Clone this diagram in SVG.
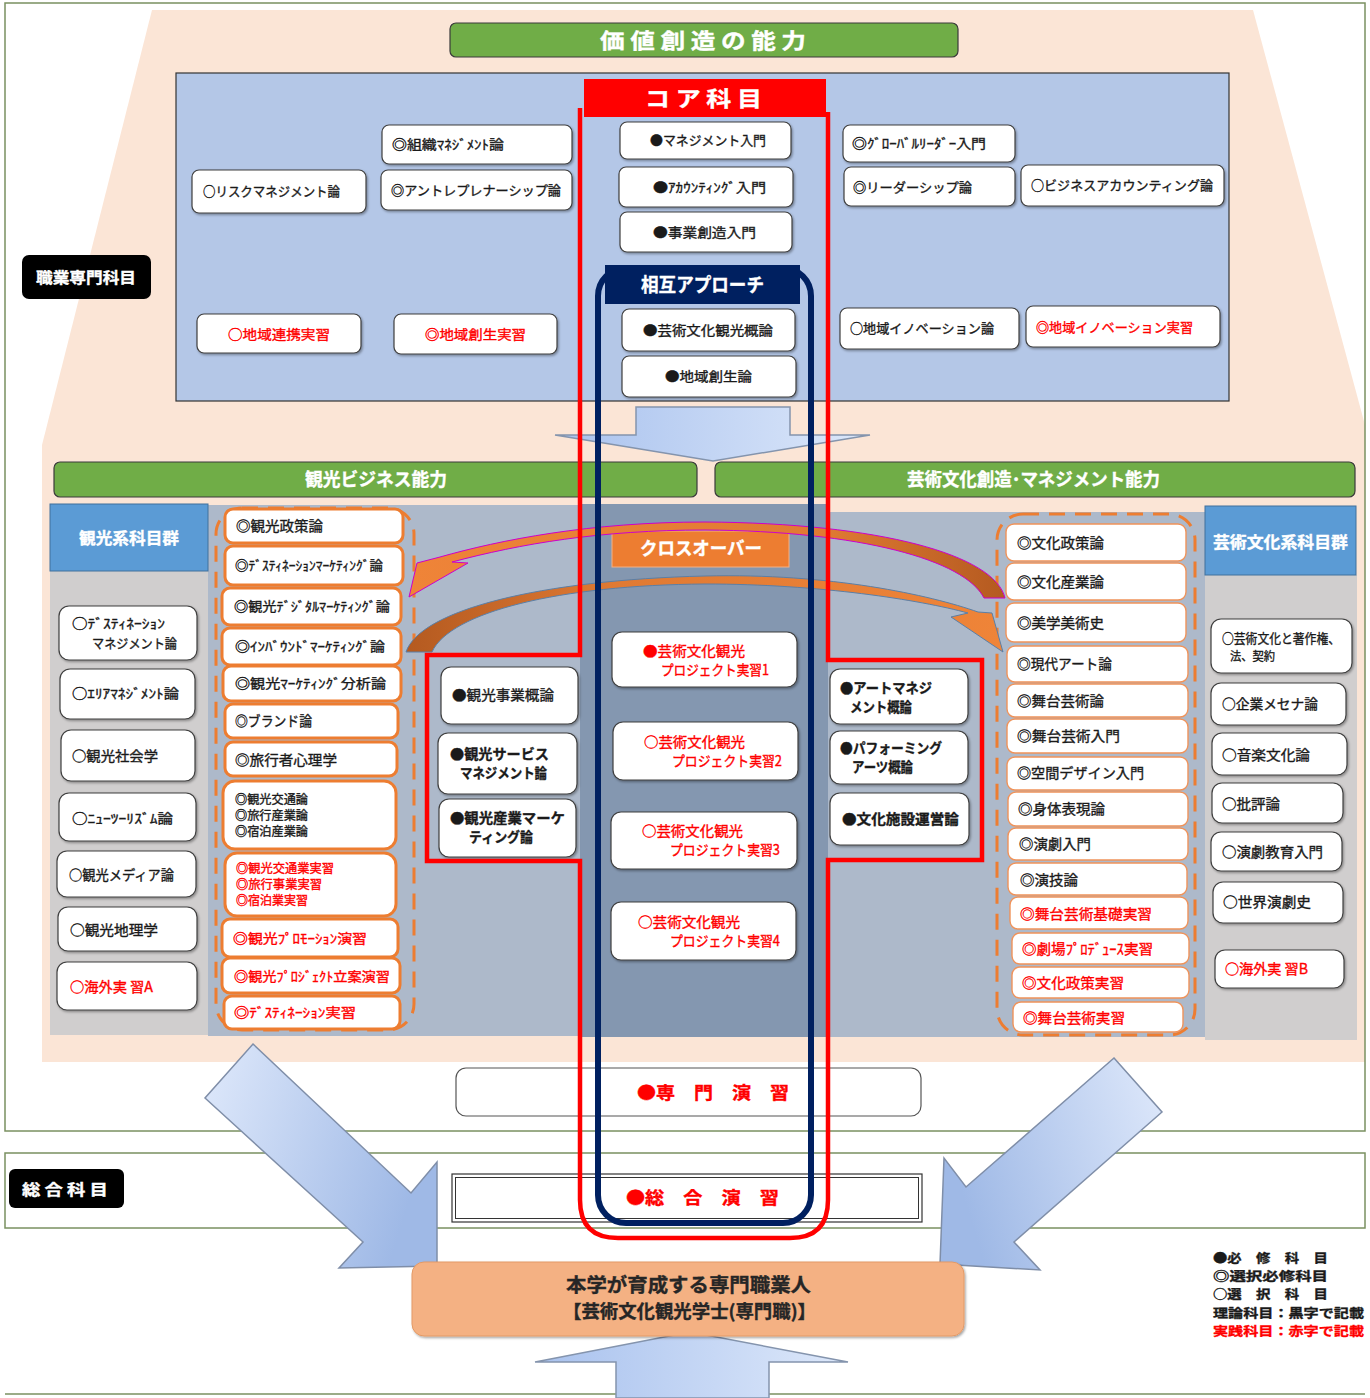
<svg xmlns="http://www.w3.org/2000/svg" width="1370" height="1398" viewBox="0 0 1370 1398">
<defs>
  <style>
    .t { font-family: "Noto Sans CJK JP", "Noto Sans", sans-serif; font-size: 13px; fill: #1a1a1a; stroke: #1a1a1a; stroke-width: 0.35px; }
    .s12 { font-size: 12px; }
    .s14 { font-size: 14px; }
    .f15 { font-size: 15px; }
    .f16 { font-size: 16px; }
    .f17 { font-size: 17px; }
    .f18 { font-size: 18px; }
    .f19 { font-size: 19px; }
    .f21 { font-size: 21px; }
    .lg { font-size: 12.5px; }
    .b { font-weight: bold; }
    .r { fill: #ff0000; stroke: #ff0000; }
    .w { fill: #ffffff; stroke: #ffffff; font-weight: bold; }
    .dk { fill: #262626; stroke: #262626; }
    .bx { fill: #ffffff; stroke: #3f3f3f; stroke-width: 1.2; filter: url(#sh); }
    .ob { fill: #ffffff; stroke: #ed7d31; stroke-width: 3; }
    .ob2 { fill: #ffffff; stroke: #f0935a; stroke-width: 1.4; }
    .bar { fill: #70ad47; stroke: #3a3a3a; stroke-width: 1.2; }
    .lab { fill: #000000; }
    .frame { fill: none; stroke: #7a9060; stroke-width: 1.5; }
    .dash { fill: none; stroke: #ed7d31; stroke-width: 3; stroke-dasharray: 16 10; }
    .hdr { fill: #5b9bd5; stroke: #41719c; stroke-width: 1; }
    .bigarrow { fill: url(#blueGrad); stroke: #8494ad; stroke-width: 1.5; }
  </style>
  <filter id="sh" x="-10%" y="-10%" width="130%" height="140%">
    <feDropShadow dx="1.2" dy="1.5" stdDeviation="0.8" flood-color="#000" flood-opacity="0.35"/>
  </filter>
  <linearGradient id="blueGrad" x1="0" y1="0" x2="1" y2="0">
    <stop offset="0" stop-color="#a9c2ee"/>
    <stop offset="1" stop-color="#dde8fa"/>
  </linearGradient>
  <linearGradient id="diagL" x1="0" y1="0" x2="1" y2="0.3">
    <stop offset="0" stop-color="#dfe9fb"/>
    <stop offset="1" stop-color="#9fb9e6"/>
  </linearGradient>
  <linearGradient id="diagR" x1="1" y1="0" x2="0" y2="0.3">
    <stop offset="0" stop-color="#dfe9fb"/>
    <stop offset="1" stop-color="#9fb9e6"/>
  </linearGradient>
  <linearGradient id="arcUp" x1="0" y1="0" x2="1" y2="0">
    <stop offset="0" stop-color="#ef8438"/>
    <stop offset="0.7" stop-color="#e07a33"/>
    <stop offset="1" stop-color="#b45a20"/>
  </linearGradient>
  <linearGradient id="arcLow" x1="0" y1="0" x2="1" y2="0">
    <stop offset="0" stop-color="#b45a20"/>
    <stop offset="0.35" stop-color="#e07a33"/>
    <stop offset="1" stop-color="#ef8438"/>
  </linearGradient>
</defs>

<!-- page background and frames -->
<rect x="0" y="0" width="1370" height="1398" fill="#ffffff"/>
<polygon points="152,10 1253,10 1365,425 1365,1062 42,1062 42,445" fill="#fbe5d6"/>
<rect class="frame" x="5" y="3" width="1360" height="1128"/>
<rect class="frame" x="5" y="1153" width="1360" height="75"/>
<line x1="5" y1="1394" x2="1365" y2="1394" stroke="#7a9060" stroke-width="1.5"/>

<!-- upper block: value creation -->
<g id="title-value">
  <rect class="bar" x="450" y="23" width="508" height="34" rx="6"/>
  <text class="t w f21" x="600" y="48" textLength="206" lengthAdjust="spacingAndGlyphs">価 値 創 造 の 能 力</text>
</g>
<rect x="176" y="73" width="1053" height="328" fill="#b4c7e7" stroke="#333" stroke-width="1.2"/>

<g id="label-shokugyo">
  <rect class="lab" x="22" y="255" width="129" height="44" rx="7"/>
  <text class="t w f15" x="36" y="283" textLength="100" lengthAdjust="spacingAndGlyphs">職業専門科目</text>
</g>

<g id="n-management"><rect class="bx" x="620" y="122" width="171" height="37" rx="7"/><text class="t" x="650" y="145" textLength="116" lengthAdjust="spacingAndGlyphs">●マネジメント入門</text></g>
<g id="n-accounting"><rect class="bx" x="619" y="167" width="174" height="40" rx="7"/><text class="t" x="653" y="192" textLength="113" lengthAdjust="spacingAndGlyphs">●ｱｶｳﾝﾃｨﾝｸﾞ入門</text></g>
<g id="n-jigyo"><rect class="bx" x="620" y="212" width="172" height="40" rx="7"/><text class="t" x="653" y="237" textLength="103" lengthAdjust="spacingAndGlyphs">●事業創造入門</text></g>
<g id="n-geijutsu-gairon"><rect class="bx" x="622" y="309" width="173" height="42" rx="7"/><text class="t" x="643" y="335" textLength="130" lengthAdjust="spacingAndGlyphs">●芸術文化観光概論</text></g>
<g id="n-chiiki-sousei"><rect class="bx" x="622" y="356" width="174" height="41" rx="7"/><text class="t" x="665" y="381" textLength="87" lengthAdjust="spacingAndGlyphs">●地域創生論</text></g>

<g id="n-soshiki"><rect class="bx" x="382" y="125" width="190" height="39" rx="7"/><text class="t" x="392" y="149" textLength="112" lengthAdjust="spacingAndGlyphs">◎組織ﾏﾈｼﾞﾒﾝﾄ論</text></g>
<g id="n-risk"><rect class="bx" x="192" y="170" width="174" height="43" rx="7"/><text class="t" x="203" y="196" textLength="137" lengthAdjust="spacingAndGlyphs">○リスクマネジメント論</text></g>
<g id="n-entre"><rect class="bx" x="381" y="170" width="191" height="40" rx="7"/><text class="t" x="391" y="195" textLength="170" lengthAdjust="spacingAndGlyphs">◎アントレプレナーシップ論</text></g>
<g id="n-renkei"><rect class="bx" x="197" y="314" width="164" height="39" rx="7"/><text class="t r" x="228" y="339" textLength="102" lengthAdjust="spacingAndGlyphs">○地域連携実習</text></g>
<g id="n-sousei-jisshu"><rect class="bx" x="394" y="314" width="163" height="40" rx="7"/><text class="t r" x="425" y="339" textLength="101" lengthAdjust="spacingAndGlyphs">◎地域創生実習</text></g>

<g id="n-global"><rect class="bx" x="843" y="125" width="172" height="37" rx="7"/><text class="t" x="852" y="148" textLength="134" lengthAdjust="spacingAndGlyphs">◎ｸﾞﾛｰﾊﾞﾙﾘｰﾀﾞｰ入門</text></g>
<g id="n-leader"><rect class="bx" x="844" y="167" width="171" height="39" rx="7"/><text class="t" x="853" y="192" textLength="119" lengthAdjust="spacingAndGlyphs">◎リーダーシップ論</text></g>
<g id="n-bizacc"><rect class="bx" x="1021" y="165" width="203" height="41" rx="7"/><text class="t" x="1031" y="190" textLength="182" lengthAdjust="spacingAndGlyphs">○ビジネスアカウンティング論</text></g>
<g id="n-innov"><rect class="bx" x="840" y="308" width="179" height="41" rx="7"/><text class="t" x="850" y="333" textLength="144" lengthAdjust="spacingAndGlyphs">○地域イノベーション論</text></g>
<g id="n-innov-jisshu"><rect class="bx" x="1026" y="306" width="194" height="41" rx="7"/><text class="t r" x="1036" y="332" textLength="157" lengthAdjust="spacingAndGlyphs">◎地域イノベーション実習</text></g>

<!-- ability bars -->
<g id="bar-kanko">
  <rect class="bar" x="54" y="462" width="643" height="35" rx="6"/>
  <text class="t w f18" x="305" y="486" textLength="142" lengthAdjust="spacingAndGlyphs">観光ビジネス能力</text>
</g>
<g id="bar-geijutsu">
  <rect class="bar" x="715" y="462" width="640" height="35" rx="6"/>
  <text class="t w f18" x="907" y="486" textLength="253" lengthAdjust="spacingAndGlyphs">芸術文化創造･マネジメント能力</text>
</g>

<!-- middle block backgrounds -->
<rect x="50" y="505" width="158" height="530" fill="#d0cece"/>
<rect x="208" y="505" width="372" height="531" fill="#adb9ca"/>
<rect x="580" y="504" width="248" height="533" fill="#8497b0"/>
<rect x="828" y="512" width="377" height="525" fill="#adb9ca"/>
<rect x="1205" y="575" width="152" height="465" fill="#d0cece"/>

<g id="hdr-kanko">
  <rect class="hdr" x="50" y="504" width="158" height="67"/>
  <text class="t w f16" x="79" y="544" textLength="100" lengthAdjust="spacingAndGlyphs">観光系科目群</text>
</g>
<g id="hdr-geijutsu">
  <rect class="hdr" x="1205" y="506" width="151" height="69"/>
  <text class="t w f16" x="1213" y="548" textLength="135" lengthAdjust="spacingAndGlyphs">芸術文化系科目群</text>
</g>

<rect class="dash" x="216" y="508" width="198" height="522" rx="26"/>
<rect class="dash" x="997" y="514" width="198" height="521" rx="26"/>

<g id="crossover">
  <rect x="612" y="531" width="177" height="36" fill="#ed7d31" stroke="#f4b183" stroke-width="1"/>
  <text class="t w f18" x="640" y="555" textLength="122" lengthAdjust="spacingAndGlyphs">クロスオーバー</text>
</g>

<!-- tourism elective-required list -->
<g id="n-k1"><rect class="ob" x="225" y="509" width="178" height="34" rx="8"/><text class="t s14" x="236" y="531" textLength="87" lengthAdjust="spacingAndGlyphs">◎観光政策論</text></g>
<g id="n-k2"><rect class="ob" x="225" y="546" width="178" height="39" rx="8"/><text class="t" x="235" y="570" textLength="148" lengthAdjust="spacingAndGlyphs">◎ﾃﾞｽﾃｨﾈｰｼｮﾝﾏｰｹﾃｨﾝｸﾞ論</text></g>
<g id="n-k3"><rect class="ob" x="222" y="588" width="179" height="37" rx="8"/><text class="t" x="234" y="611" textLength="156" lengthAdjust="spacingAndGlyphs">◎観光ﾃﾞｼﾞﾀﾙﾏｰｹﾃｨﾝｸﾞ論</text></g>
<g id="n-k4"><rect class="ob" x="222" y="628" width="179" height="37" rx="8"/><text class="t" x="235" y="651" textLength="150" lengthAdjust="spacingAndGlyphs">◎ｲﾝﾊﾞｳﾝﾄﾞﾏｰｹﾃｨﾝｸﾞ論</text></g>
<g id="n-k5"><rect class="ob" x="223" y="666" width="178" height="35" rx="8"/><text class="t" x="235" y="688" textLength="151" lengthAdjust="spacingAndGlyphs">◎観光ﾏｰｹﾃｨﾝｸﾞ分析論</text></g>
<g id="n-k6"><rect class="ob" x="225" y="704" width="173" height="34" rx="8"/><text class="t s14" x="235" y="726" textLength="77" lengthAdjust="spacingAndGlyphs">◎ブランド論</text></g>
<g id="n-k7"><rect class="ob" x="225" y="742" width="172" height="34" rx="8"/><text class="t s14" x="235" y="765" textLength="102" lengthAdjust="spacingAndGlyphs">◎旅行者心理学</text></g>
<g id="n-k8"><rect class="ob" x="223" y="781" width="173" height="68" rx="12"/>
  <text class="t s12" x="235" y="804" textLength="73" lengthAdjust="spacingAndGlyphs">◎観光交通論</text>
  <text class="t s12" x="235" y="820" textLength="73" lengthAdjust="spacingAndGlyphs">◎旅行産業論</text>
  <text class="t s12" x="235" y="836" textLength="73" lengthAdjust="spacingAndGlyphs">◎宿泊産業論</text></g>
<g id="n-k9"><rect class="ob" x="225" y="853" width="171" height="63" rx="12"/>
  <text class="t s12 r" x="236" y="873" textLength="98" lengthAdjust="spacingAndGlyphs">◎観光交通業実習</text>
  <text class="t s12 r" x="236" y="889" textLength="86" lengthAdjust="spacingAndGlyphs">◎旅行事業実習</text>
  <text class="t s12 r" x="236" y="905" textLength="72" lengthAdjust="spacingAndGlyphs">◎宿泊業実習</text></g>
<g id="n-k10"><rect class="ob" x="222" y="919" width="176" height="38" rx="8"/><text class="t r" x="233" y="943" textLength="134" lengthAdjust="spacingAndGlyphs">◎観光ﾌﾟﾛﾓｰｼｮﾝ演習</text></g>
<g id="n-k11"><rect class="ob" x="222" y="958" width="178" height="35" rx="8"/><text class="t r" x="234" y="981" textLength="156" lengthAdjust="spacingAndGlyphs">◎観光ﾌﾟﾛｼﾞｪｸﾄ立案演習</text></g>
<g id="n-k12"><rect class="ob" x="224" y="996" width="176" height="33" rx="8"/><text class="t r" x="234" y="1017" textLength="122" lengthAdjust="spacingAndGlyphs">◎ﾃﾞｽﾃｨﾈｰｼｮﾝ実習</text></g>

<!-- tourism electives -->
<g id="n-e1"><rect class="bx" x="59" y="606" width="138" height="54" rx="10"/>
  <text class="t" x="72" y="628" textLength="93" lengthAdjust="spacingAndGlyphs">○ﾃﾞｽﾃｨﾈｰｼｮﾝ</text>
  <text class="t" x="92" y="648" textLength="85" lengthAdjust="spacingAndGlyphs">マネジメント論</text></g>
<g id="n-e2"><rect class="bx" x="60" y="669" width="135" height="50" rx="10"/><text class="t" x="72" y="698" textLength="107" lengthAdjust="spacingAndGlyphs">○ｴﾘｱﾏﾈｼﾞﾒﾝﾄ論</text></g>
<g id="n-e3"><rect class="bx" x="61" y="730" width="134" height="51" rx="10"/><text class="t s14" x="72" y="761" textLength="86" lengthAdjust="spacingAndGlyphs">○観光社会学</text></g>
<g id="n-e4"><rect class="bx" x="59" y="793" width="137" height="48" rx="10"/><text class="t" x="72" y="823" textLength="101" lengthAdjust="spacingAndGlyphs">○ﾆｭｰﾂｰﾘｽﾞﾑ論</text></g>
<g id="n-e5"><rect class="bx" x="57" y="851" width="139" height="46" rx="10"/><text class="t s14" x="69" y="880" textLength="105" lengthAdjust="spacingAndGlyphs">○観光メディア論</text></g>
<g id="n-e6"><rect class="bx" x="58" y="907" width="139" height="44" rx="10"/><text class="t s14" x="70" y="935" textLength="88" lengthAdjust="spacingAndGlyphs">○観光地理学</text></g>
<g id="n-e7"><rect class="bx" x="57" y="962" width="140" height="48" rx="10"/><text class="t s14 r" x="70" y="992" textLength="83" lengthAdjust="spacingAndGlyphs">○海外実 習A</text></g>

<!-- tourism required -->
<g id="n-c1"><rect class="bx" x="441" y="667" width="137" height="57" rx="10"/><text class="t s14" x="452" y="700" textLength="102" lengthAdjust="spacingAndGlyphs">●観光事業概論</text></g>
<g id="n-c2"><rect class="bx" x="438" y="733" width="139" height="61" rx="10"/>
  <text class="t s14 b" x="450" y="759" textLength="99" lengthAdjust="spacingAndGlyphs">●観光サービス</text>
  <text class="t s14 b" x="460" y="778" textLength="87" lengthAdjust="spacingAndGlyphs">マネジメント論</text></g>
<g id="n-c3"><rect class="bx" x="439" y="799" width="137" height="58" rx="10"/>
  <text class="t s14 b" x="450" y="823" textLength="115" lengthAdjust="spacingAndGlyphs">●観光産業マーケ</text>
  <text class="t s14 b" x="469" y="842" textLength="64" lengthAdjust="spacingAndGlyphs">ティング論</text></g>

<!-- project practice -->
<g id="n-p1"><rect class="bx" x="612" y="632" width="185" height="55" rx="10"/>
  <text class="t s14 r" x="643" y="656" textLength="102" lengthAdjust="spacingAndGlyphs">●芸術文化観光</text>
  <text class="t s14 r" x="661" y="675" textLength="108" lengthAdjust="spacingAndGlyphs">プロジェクト実習1</text></g>
<g id="n-p2"><rect class="bx" x="613" y="722" width="185" height="58" rx="10"/>
  <text class="t s14 r" x="644" y="747" textLength="101" lengthAdjust="spacingAndGlyphs">○芸術文化観光</text>
  <text class="t s14 r" x="672" y="766" textLength="110" lengthAdjust="spacingAndGlyphs">プロジェクト実習2</text></g>
<g id="n-p3"><rect class="bx" x="611" y="812" width="186" height="57" rx="10"/>
  <text class="t s14 r" x="642" y="836" textLength="101" lengthAdjust="spacingAndGlyphs">○芸術文化観光</text>
  <text class="t s14 r" x="670" y="855" textLength="110" lengthAdjust="spacingAndGlyphs">プロジェクト実習3</text></g>
<g id="n-p4"><rect class="bx" x="611" y="902" width="185" height="58" rx="10"/>
  <text class="t s14 r" x="638" y="927" textLength="102" lengthAdjust="spacingAndGlyphs">○芸術文化観光</text>
  <text class="t s14 r" x="670" y="946" textLength="110" lengthAdjust="spacingAndGlyphs">プロジェクト実習4</text></g>

<!-- arts required -->
<g id="n-a1"><rect class="bx" x="830" y="669" width="138" height="55" rx="10"/>
  <text class="t s14 b" x="840" y="693" textLength="92" lengthAdjust="spacingAndGlyphs">●アートマネジ</text>
  <text class="t s14 b" x="850" y="712" textLength="62" lengthAdjust="spacingAndGlyphs">メント概論</text></g>
<g id="n-a2"><rect class="bx" x="830" y="731" width="138" height="53" rx="10"/>
  <text class="t s14 b" x="840" y="753" textLength="102" lengthAdjust="spacingAndGlyphs">●パフォーミング</text>
  <text class="t s14 b" x="852" y="772" textLength="61" lengthAdjust="spacingAndGlyphs">アーツ概論</text></g>
<g id="n-a3"><rect class="bx" x="830" y="793" width="139" height="52" rx="10"/><text class="t s14 b" x="842" y="824" textLength="117" lengthAdjust="spacingAndGlyphs">●文化施設運営論</text></g>

<!-- arts elective-required list -->
<g id="n-g1"><rect class="ob2" x="1006" y="524" width="180" height="37" rx="8"/><text class="t s14" x="1017" y="548" textLength="87" lengthAdjust="spacingAndGlyphs">◎文化政策論</text></g>
<g id="n-g2"><rect class="ob2" x="1006" y="563" width="180" height="37" rx="8"/><text class="t s14" x="1017" y="587" textLength="87" lengthAdjust="spacingAndGlyphs">◎文化産業論</text></g>
<g id="n-g3"><rect class="ob2" x="1006" y="603" width="180" height="39" rx="8"/><text class="t s14" x="1017" y="628" textLength="87" lengthAdjust="spacingAndGlyphs">◎美学美術史</text></g>
<g id="n-g4"><rect class="ob2" x="1007" y="646" width="181" height="36" rx="8"/><text class="t s14" x="1017" y="669" textLength="95" lengthAdjust="spacingAndGlyphs">◎現代アート論</text></g>
<g id="n-g5"><rect class="ob2" x="1007" y="684" width="181" height="33" rx="8"/><text class="t s14" x="1017" y="706" textLength="87" lengthAdjust="spacingAndGlyphs">◎舞台芸術論</text></g>
<g id="n-g6"><rect class="ob2" x="1007" y="719" width="181" height="34" rx="8"/><text class="t s14" x="1017" y="741" textLength="103" lengthAdjust="spacingAndGlyphs">◎舞台芸術入門</text></g>
<g id="n-g7"><rect class="ob2" x="1007" y="757" width="181" height="33" rx="8"/><text class="t s14" x="1017" y="778" textLength="127" lengthAdjust="spacingAndGlyphs">◎空間デザイン入門</text></g>
<g id="n-g8"><rect class="ob2" x="1008" y="792" width="180" height="34" rx="8"/><text class="t s14" x="1018" y="814" textLength="87" lengthAdjust="spacingAndGlyphs">◎身体表現論</text></g>
<g id="n-g9"><rect class="ob2" x="1008" y="828" width="180" height="32" rx="8"/><text class="t s14" x="1019" y="849" textLength="72" lengthAdjust="spacingAndGlyphs">◎演劇入門</text></g>
<g id="n-g10"><rect class="ob2" x="1008" y="863" width="179" height="32" rx="8"/><text class="t s14" x="1020" y="885" textLength="58" lengthAdjust="spacingAndGlyphs">◎演技論</text></g>
<g id="n-g11"><rect class="ob2" x="1010" y="897" width="178" height="32" rx="8"/><text class="t s14 r" x="1020" y="919" textLength="132" lengthAdjust="spacingAndGlyphs">◎舞台芸術基礎実習</text></g>
<g id="n-g12"><rect class="ob2" x="1012" y="933" width="177" height="31" rx="8"/><text class="t s14 r" x="1022" y="954" textLength="131" lengthAdjust="spacingAndGlyphs">◎劇場ﾌﾟﾛﾃﾞｭｰｽ実習</text></g>
<g id="n-g13"><rect class="ob2" x="1012" y="967" width="177" height="31" rx="8"/><text class="t s14 r" x="1022" y="988" textLength="102" lengthAdjust="spacingAndGlyphs">◎文化政策実習</text></g>
<g id="n-g14"><rect class="ob2" x="1013" y="1002" width="170" height="30" rx="8"/><text class="t s14 r" x="1023" y="1023" textLength="102" lengthAdjust="spacingAndGlyphs">◎舞台芸術実習</text></g>

<!-- arts electives -->
<g id="n-f1"><rect class="bx" x="1211" y="619" width="141" height="54" rx="10"/>
  <text class="t" x="1222" y="643" textLength="118" lengthAdjust="spacingAndGlyphs">○芸術文化と著作権、</text>
  <text class="t s12" x="1230" y="661" textLength="45" lengthAdjust="spacingAndGlyphs">法、契約</text></g>
<g id="n-f2"><rect class="bx" x="1211" y="683" width="135" height="42" rx="10"/><text class="t s14" x="1222" y="709" textLength="96" lengthAdjust="spacingAndGlyphs">○企業メセナ論</text></g>
<g id="n-f3"><rect class="bx" x="1212" y="733" width="135" height="42" rx="10"/><text class="t s14" x="1222" y="760" textLength="88" lengthAdjust="spacingAndGlyphs">○音楽文化論</text></g>
<g id="n-f4"><rect class="bx" x="1212" y="783" width="131" height="40" rx="10"/><text class="t s14" x="1222" y="809" textLength="58" lengthAdjust="spacingAndGlyphs">○批評論</text></g>
<g id="n-f5"><rect class="bx" x="1211" y="832" width="131" height="39" rx="10"/><text class="t s14" x="1222" y="857" textLength="101" lengthAdjust="spacingAndGlyphs">○演劇教育入門</text></g>
<g id="n-f6"><rect class="bx" x="1213" y="882" width="130" height="41" rx="10"/><text class="t s14" x="1223" y="907" textLength="88" lengthAdjust="spacingAndGlyphs">○世界演劇史</text></g>
<g id="n-f7"><rect class="bx" x="1215" y="950" width="129" height="38" rx="10"/><text class="t s14 r" x="1225" y="974" textLength="83" lengthAdjust="spacingAndGlyphs">○海外実 習B</text></g>

<!-- seminars and general subjects -->
<g id="n-senmon-enshu">
  <rect x="456" y="1068" width="465" height="48" rx="10" fill="#fff" stroke="#555" stroke-width="1.2"/>
  <text class="t b r f17" x="637" y="1099" textLength="152" lengthAdjust="spacingAndGlyphs">●専　門　演　習</text>
</g>
<g id="n-sogo-enshu">
  <rect x="452" y="1174" width="470" height="48" fill="#fff" stroke="#333" stroke-width="1.2"/>
  <rect x="455.5" y="1177.5" width="463" height="41" fill="none" stroke="#333" stroke-width="1"/>
  <text class="t b r f17" x="626" y="1204" textLength="153" lengthAdjust="spacingAndGlyphs">●総　合　演　習</text>
</g>
<g id="label-sogo">
  <rect class="lab" x="9" y="1169" width="115" height="39" rx="6"/>
  <text class="t w f15" x="22" y="1195" textLength="86" lengthAdjust="spacingAndGlyphs">総 合 科 目</text>
</g>

<!-- connectors: flows, crossover arcs and course bands -->
<g id="connectors">
  <polygon class="bigarrow" points="636,407 790,407 790,435 870,435 713,461 555,435 636,435"/>
  <polygon class="bigarrow" points="616,1398 616,1362 535,1362 690,1332 848,1362 769,1362 769,1398"/>
  <polygon fill="url(#diagL)" stroke="#7f8ea8" stroke-width="1.5" points="253,1044 411,1193 437,1162 437,1266 339,1268 363,1242 205,1098"/>
  <polygon fill="url(#diagR)" stroke="#7f8ea8" stroke-width="1.5" points="1114,1058 1162,1112 1014,1242 1040,1270 940,1264 944,1158 966,1187"/>

  <path d="M 1005,598 C 995,555 880,523 705,522 C 590,522 500,540 440,557 L 417,563 L 409,597 L 468,563 L 452,562 C 520,544 600,530 705,530 C 860,531 965,560 984,598 Z" fill="url(#arcUp)" stroke="#cc00cc" stroke-width="1"/>
  <path d="M 406,652 C 420,610 540,580 705,576 C 830,573 930,595 978,612 L 992,613 L 1003,652 L 951,617 L 968,613 C 920,600 820,584 705,584 C 560,585 450,612 432,652 Z" fill="url(#arcLow)" stroke="#5b7fa6" stroke-width="1"/>

  <path d="M 580,108 L 580,655 L 427,655 L 427,861 L 580,861 L 580,1200 Q 580,1238 618,1238 L 790,1238 Q 828,1238 828,1200 L 828,860 L 982,860 L 982,660 L 828,660 L 828,112" fill="none" stroke="#ff0000" stroke-width="4.5"/>
  <rect x="598" y="268" width="213" height="955" rx="28" fill="none" stroke="#002060" stroke-width="6"/>
</g>

<g id="hdr-core">
  <rect x="584" y="79" width="242" height="38" fill="#ff0000"/>
  <text class="t w f21" x="645" y="106" textLength="117" lengthAdjust="spacingAndGlyphs">コ ア 科 目</text>
</g>
<g id="hdr-mutual">
  <rect x="605" y="265" width="195" height="39" fill="#002060"/>
  <text class="t w f19" x="641" y="292" textLength="123" lengthAdjust="spacingAndGlyphs">相互アプローチ</text>
</g>

<g id="n-goal">
  <rect x="412" y="1262" width="552" height="74" rx="12" fill="#f4b183" stroke="#e39a66" stroke-width="1" filter="url(#sh)"/>
  <text class="t b dk f19" x="566" y="1292" textLength="245" lengthAdjust="spacingAndGlyphs">本学が育成する専門職業人</text>
  <text class="t b dk f18" x="563" y="1318" textLength="253" lengthAdjust="spacingAndGlyphs">【芸術文化観光学士(専門職)】</text>
</g>

<g id="legend">
  <text class="t b lg" x="1213" y="1263" textLength="115" lengthAdjust="spacingAndGlyphs">●必　修　科　目</text>
  <text class="t b lg" x="1213" y="1281" textLength="115" lengthAdjust="spacingAndGlyphs">◎選択必修科目</text>
  <text class="t b lg" x="1213" y="1299" textLength="115" lengthAdjust="spacingAndGlyphs">○選　択　科　目</text>
  <text class="t b lg" x="1213" y="1318" textLength="151" lengthAdjust="spacingAndGlyphs">理論科目：黒字で記載</text>
  <text class="t b r lg" x="1213" y="1336" textLength="151" lengthAdjust="spacingAndGlyphs">実践科目：赤字で記載</text>
</g>
</svg>
